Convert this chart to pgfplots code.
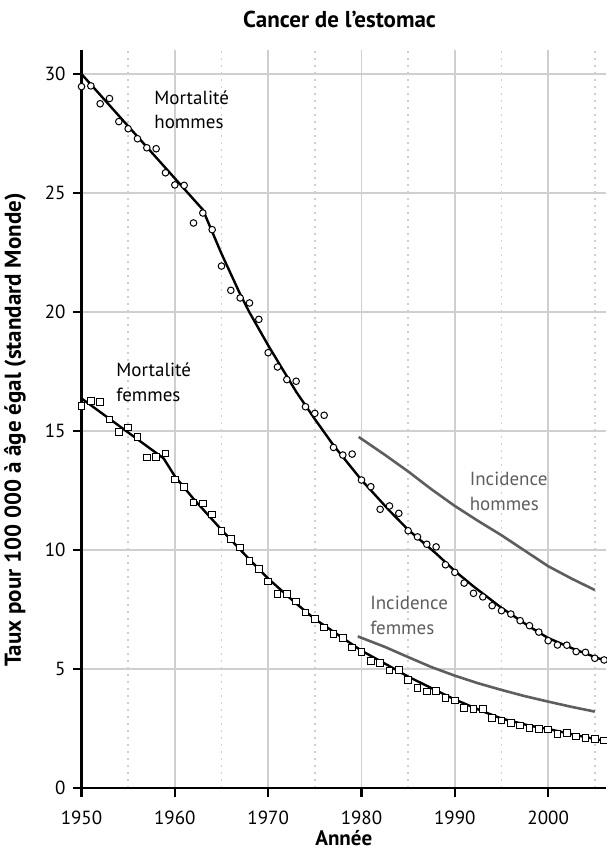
\documentclass[border=0pt]{standalone}
\usepackage{fontspec}
\setmainfont{PT Sans}
\usepackage{pgfplots}
\usepackage{pgfplotstable}
\pgfplotsset{compat=1.18}
\definecolor{gridgray}{HTML}{CFCFCF}
\definecolor{incgray}{HTML}{5E5E5E}

\pgfplotstableread{
year val
1950 29.47
1951 29.50
1952 28.75
1953 28.97
1954 28.00
1955 27.70
1956 27.28
1957 26.90
1958 26.86
1959 25.85
1960 25.34
1961 25.32
1962 23.74
1963 24.16
1964 23.46
1965 21.93
1966 20.91
1967 20.59
1968 20.38
1969 19.69
1970 18.29
1971 17.69
1972 17.16
1973 17.09
1974 16.02
1975 15.74
1976 15.66
1977 14.31
1978 13.99
1979 14.03
1980 12.94
1981 12.66
1982 11.71
1983 11.85
1984 11.54
1985 10.81
1986 10.55
1987 10.24
1988 10.13
1989 9.38
1990 9.06
1991 8.61
1992 8.18
1993 8.03
1994 7.66
1995 7.45
1996 7.31
1997 7.03
1998 6.82
1999 6.55
2000 6.19
2001 6.01
2002 6.00
2003 5.73
2004 5.70
2005 5.45
2006 5.38
}\menpts

\pgfplotstableread{
year val
1950 16.05
1951 16.27
1952 16.22
1953 15.48
1954 14.96
1955 15.14
1956 14.76
1957 13.88
1958 13.91
1959 14.06
1960 12.97
1961 12.65
1962 11.99
1963 11.96
1964 11.50
1965 10.80
1966 10.47
1967 10.11
1968 9.55
1969 9.19
1970 8.68
1971 8.16
1972 8.15
1973 7.84
1974 7.38
1975 7.11
1976 6.75
1977 6.47
1978 6.29
1979 5.91
1980 5.71
1981 5.34
1982 5.24
1983 4.93
1984 4.96
1985 4.54
1986 4.19
1987 4.05
1988 4.08
1989 3.77
1990 3.67
1991 3.36
1992 3.31
1993 3.32
1994 2.95
1995 2.84
1996 2.72
1997 2.63
1998 2.53
1999 2.48
2000 2.45
2001 2.28
2002 2.31
2003 2.16
2004 2.11
2005 2.07
2006 2.00
}\wompts

\pgfplotstableread{
year val
1950 30.00
1963 24.30
1965 22.45
1967 20.75
1968 19.98
1970 18.60
1973 16.65
1975 15.50
1977 14.40
1980 12.94
1983 11.65
1985 10.85
1988 9.85
1990 9.12
1992 8.47
1995 7.57
1998 6.78
2000 6.30
2003 5.80
2006 5.36
}\menfit

\pgfplotstableread{
year val
1950 16.37
1958.8 13.85
1960 13.10
1962 12.15
1965 10.85
1968 9.60
1970 8.80
1973 7.75
1975 7.10
1978 6.30
1980 5.77
1983 5.12
1985 4.68
1988 4.10
1990 3.72
1993 3.22
1995 2.92
1998 2.62
2000 2.48
2003 2.22
2006 1.98
}\womfit

\pgfplotstableread{
year val
1979.7 14.75
1982.5 14.00
1985 13.30
1987.5 12.55
1990 11.85
1992.5 11.22
1995 10.62
1997.5 9.97
2000 9.32
2002.5 8.80
2005 8.32
}\meninc

\pgfplotstableread{
year val
1979.6 6.37
1982.5 5.93
1985 5.50
1987.5 5.08
1990 4.72
1992.5 4.40
1995 4.12
1997.5 3.86
2000 3.63
2002.5 3.41
2005 3.21
}\wominc

\begin{document}
\begin{tikzpicture}
\begin{axis}[
  name=a,
  scale only axis,
  width=262.25pt, height=368.9pt,
  xmin=1950, xmax=2006.2, ymin=0, ymax=31,
  axis lines*=left,
  axis line style={line width=1.2pt, black},
  xtick={1950,1960,...,2000},
  minor xtick={1955,1965,...,2005},
  ytick={0,5,...,30},
  grid=both,
  major grid style={gridgray, line width=0.7pt},
  minor grid style={gridgray, line width=0.7pt, dash pattern=on 0.8pt off 2.7pt},
  tick align=outside,
  major tick length=4.25pt,
  minor tick length=0pt,
  tick style={black, line width=1.2pt},
  /pgf/number format/assume math mode=true,
  /pgf/number format/1000 sep={},
  ticklabel style={font=\fontsize{9.5}{11}\selectfont},
  xticklabel style={anchor=base, yshift=-14pt},
  yticklabel style={anchor=east, inner sep=0pt, xshift=-3.5pt},
  title={Cancer de l’estomac},
  title style={font=\bfseries\fontsize{11.5}{13}\selectfont, at={(axis description cs:0.492,1)}, anchor=base, yshift=5.4pt},
  xlabel={Année},
  xlabel style={font=\bfseries\fontsize{10.5}{12}\selectfont, at={(axis description cs:0.5,0)}, anchor=base, yshift=-28.5pt},
  ylabel={Taux pour 100 000 à âge égal (standard Monde)},
  ylabel style={font=\bfseries\fontsize{11.5}{13}\selectfont, at={(axis description cs:-0.127,0.485)}, anchor=center},
  clip=false,
]
\addplot[only marks, mark=*, mark size=1.65pt, mark options={fill=white, draw=black, line width=0.5pt}] table[x=year, y=val] {\menpts};
\addplot[only marks, mark=square*, mark size=1.65pt, mark options={fill=white, draw=black, line width=0.5pt}] table[x=year, y=val] {\wompts};
\addplot[black, line width=1.2pt, line join=round] table[x=year, y=val] {\menfit};
\addplot[black, line width=1.2pt, line join=round] table[x=year, y=val] {\womfit};
\addplot[incgray, line width=1.3pt, line join=round] table[x=year, y=val] {\meninc};
\addplot[incgray, line width=1.3pt, line join=round] table[x=year, y=val] {\wominc};
\node[anchor=base west, inner sep=0pt, font=\fontsize{9.5}{11}\selectfont] at (axis cs:1957.77,28.70) {Mortalité};
\node[anchor=base west, inner sep=0pt, font=\fontsize{9.5}{11}\selectfont] at (axis cs:1957.77,27.69) {hommes};
\node[anchor=base west, inner sep=0pt, font=\fontsize{9.5}{11}\selectfont] at (axis cs:1953.7,17.27) {Mortalité};
\node[anchor=base west, inner sep=0pt, font=\fontsize{9.5}{11}\selectfont] at (axis cs:1953.7,16.22) {femmes};
\node[anchor=base west, inner sep=0pt, text=incgray, font=\fontsize{9.5}{11}\selectfont] at (axis cs:1991.56,12.73) {Incidence};
\node[anchor=base west, inner sep=0pt, text=incgray, font=\fontsize{9.5}{11}\selectfont] at (axis cs:1991.56,11.68) {hommes};
\node[anchor=base west, inner sep=0pt, text=incgray, font=\fontsize{9.5}{11}\selectfont] at (axis cs:1980.9,7.48) {Incidence};
\node[anchor=base west, inner sep=0pt, text=incgray, font=\fontsize{9.5}{11}\selectfont] at (axis cs:1980.9,6.43) {femmes};
\end{axis}
\pgfresetboundingbox
\path[use as bounding box] ([xshift=-40.75pt,yshift=-34pt]a.south west) rectangle ([yshift=25.1pt]a.north east);
\end{tikzpicture}
\end{document}
